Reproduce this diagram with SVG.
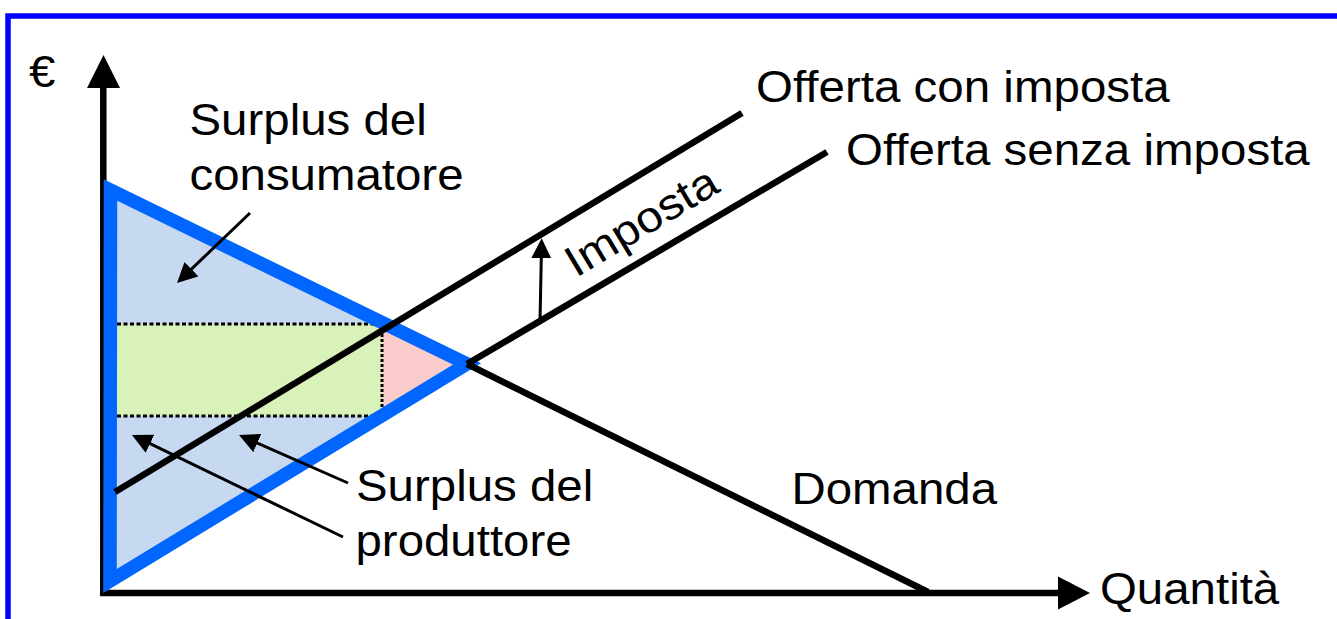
<svg xmlns="http://www.w3.org/2000/svg" width="1337" height="619" viewBox="0 0 1337 619">
<style>
  .t { font-family: "Liberation Sans", Arial, sans-serif; font-size: 43.5px; fill: #000; }
  .ln { stroke: #000; stroke-width: 6.5; fill: none; }
  .ar { stroke: #000; stroke-width: 3; fill: none; marker-end: url(#ah); }
</style>
<defs>
  <marker id="ah" markerUnits="userSpaceOnUse" markerWidth="20" markerHeight="20" refX="16" refY="10" orient="auto">
    <path d="M0,0 L20,10 L0,20 z" fill="#000"/>
  </marker>
</defs>
<rect width="1337" height="619" fill="#fff"/>
<path id="frame" d="M8,630 L8,16 L1345,16" fill="none" stroke="#0000ff" stroke-width="5.5"/>

<g id="areas">
  <polygon points="110.5,190 467,364 110,581" fill="#c6d9f1"/>
  <rect x="117" y="324" width="265" height="92" fill="#d9f2b9"/>
  <polygon points="382,322.5 467,364 382,415.6" fill="#f9cbcb"/>
  <path d="M117,324 H382 M117,416 H382" stroke="#000" stroke-width="3" stroke-dasharray="4 2.5" fill="none"/>
  <path d="M382,324 V416" stroke="#000" stroke-width="3" stroke-dasharray="3 2" fill="none"/>
</g>

<g id="axes">
  <line x1="103.3" y1="85" x2="103.3" y2="596" class="ln"/>
  <polygon points="103.5,55 87,88 120,88" fill="#000"/>
  <line x1="100" y1="593" x2="1060" y2="593" class="ln"/>
  <polygon points="1090,593 1058,576.5 1058,609.5" fill="#000"/>
</g>

<g id="surplus-triangle">
  <path d="M110.5,190 L467,364 L110,581 Z" fill="none" stroke="#0066ff" stroke-width="13.5" stroke-linejoin="miter" stroke-miterlimit="10"/>
</g>

<g id="curves">
  <line id="domanda-line" x1="467" y1="364" x2="928" y2="592" class="ln" stroke-width="6"/>
  <line id="offerta-senza-line" x1="467" y1="364" x2="827" y2="152" class="ln"/>
  <line id="offerta-con-line" x1="115" y1="492" x2="742" y2="113" class="ln"/>
</g>

<g id="connectors">
  <line x1="250" y1="213" x2="179.9" y2="280.2" class="ar"/>
  <line x1="348" y1="483" x2="242.7" y2="436.6" class="ar"/>
  <line x1="343" y1="537" x2="135.6" y2="436.7" class="ar"/>
  <line x1="540" y1="322" x2="541.6" y2="242.3" class="ar"/>
</g>

<g id="label-euro"><text class="t" x="29" y="87" textLength="26.4" lengthAdjust="spacingAndGlyphs">€</text></g>
<g id="label-consumatore">
  <text class="t" x="189.5" y="135" textLength="237.2" lengthAdjust="spacingAndGlyphs">Surplus del</text>
  <text class="t" x="189.5" y="190" textLength="274" lengthAdjust="spacingAndGlyphs">consumatore</text>
</g>
<g id="label-offerta-con"><text class="t" x="756" y="102" textLength="413.7" lengthAdjust="spacingAndGlyphs">Offerta con imposta</text></g>
<g id="label-offerta-senza"><text class="t" x="846" y="165" textLength="463.8" lengthAdjust="spacingAndGlyphs">Offerta senza imposta</text></g>
<g id="label-imposta"><text class="t" x="576" y="278" font-size="45" transform="rotate(-31 576 278)" textLength="170" lengthAdjust="spacingAndGlyphs">Imposta</text></g>
<g id="label-produttore">
  <text class="t" x="356" y="501" textLength="237.2" lengthAdjust="spacingAndGlyphs">Surplus del</text>
  <text class="t" x="355.5" y="556" textLength="216.1" lengthAdjust="spacingAndGlyphs">produttore</text>
</g>
<g id="label-domanda"><text class="t" x="791.5" y="504" textLength="205.5" lengthAdjust="spacingAndGlyphs">Domanda</text></g>
<g id="label-quantita"><text class="t" x="1100" y="604" textLength="179.2" lengthAdjust="spacingAndGlyphs">Quantità</text></g>
</svg>
